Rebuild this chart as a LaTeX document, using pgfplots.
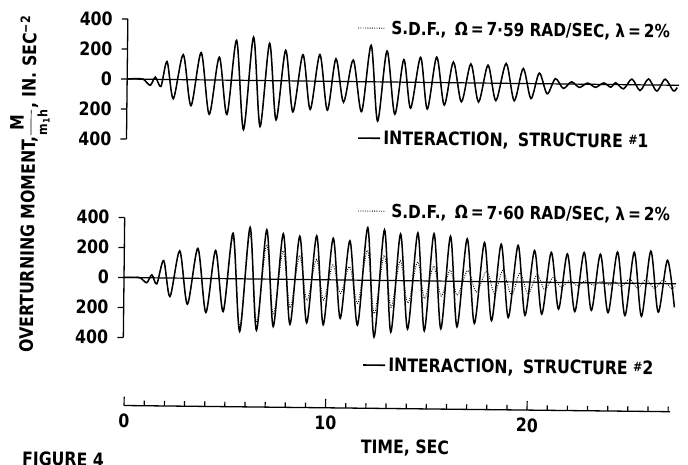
\documentclass[border=0pt]{standalone}
\usepackage{fontspec}
\setmainfont{DejaVu Sans}[FakeStretch=0.85]
\usepackage{amsmath}
\usepackage{pgfplots}
\pgfplotsset{compat=1.18}
\newcommand{\lf}{\fontsize{18.5}{20}\selectfont\bfseries}
\newcommand{\legf}{\fontsize{18}{20}\selectfont\bfseries}
\pgfplotsset{
  panel/.style={
    scale only axis, width=552.1pt, height=120pt,
    xmin=0, xmax=27.4, ymin=-400, ymax=400,
    axis x line=none, axis y line=left,
    axis line style={-, line width=1.3pt},
    ytick={-400,-200,0,200,400}, yticklabels={400,200,0,200,400},
    tick align=outside, major tick length=6pt,
    tick style={line width=1.3pt, black},
    yticklabel style={font=\lf, inner sep=0pt, xshift=-9pt},
    clip=false,
  },
  sol/.style={black, line width=1.5pt, smooth},
  sdf/.style={black, line width=0.9pt, smooth, dash pattern=on 0.9pt off 1.4pt},
  zer/.style={black, line width=1.2pt},
}
\begin{document}
\begin{tikzpicture}
\path[use as bounding box] (0,0) rectangle (688pt,464pt);
\begin{scope}[transform canvas={rotate=-0.65}]
% ---------------- top panel ----------------
\begin{axis}[panel, at={(122.8pt,326.4pt)}, anchor=south west]
\addplot[zer] coordinates {(0,0) (27.4,0)};
\addplot[sdf] coordinates {(0,0) (0.4,2) (0.8,0) (1.15,-36) (1.4,12) (1.68,-44) (1.97,114) (2.30,-122) (2.77,160) (3.18,-166) (3.66,176) (4.09,-220) (4.56,148) (4.97,-220) (5.41,258) (5.80,-318) (6.25,280) (6.62,-298) (7.05,242) (7.41,-252) (7.85,198) (8.24,-200) (8.71,170) (9.10,-182) (9.55,172) (9.95,-186) (10.35,146) (10.75,-132) (11.21,140) (11.65,-193) (12.09,236) (12.45,-254) (12.88,200) (13.30,-208) (13.72,146) (14.08,-167) (14.55,161) (14.91,-172) (15.35,164) (15.75,-145) (16.18,133) (16.60,-122) (17.05,122) (17.45,-122) (17.90,115) (18.31,-111) (18.80,128) (19.22,-111) (19.65,96) (20.05,-96) (20.45,68) (20.85,-64) (21.25,32) (21.65,-28) (22.05,14) (22.45,-20) (22.85,7) (23.25,-18) (23.65,9) (24.0,-16) (24.25,11) (24.64,-26) (25.05,36) (25.46,-36) (25.87,38) (26.29,-38) (26.70,38) (27.11,-36) (27.3,-14)};
\addplot[sol] coordinates {(0,0) (0.4,3) (0.8,0) (1.15,-40) (1.4,15) (1.68,-47) (1.97,120) (2.30,-128) (2.77,167) (3.18,-173) (3.66,182) (4.09,-229) (4.56,153) (4.97,-229) (5.41,267) (5.80,-329) (6.25,289) (6.62,-307) (7.05,249) (7.41,-262) (7.85,204) (8.24,-207) (8.71,176) (9.10,-189) (9.55,178) (9.95,-193) (10.35,151) (10.75,-138) (11.21,144) (11.65,-200) (12.09,244) (12.45,-262) (12.88,207) (13.30,-215) (13.72,151) (14.08,-173) (14.55,167) (14.91,-178) (15.35,170) (15.75,-150) (16.18,138) (16.60,-127) (17.05,127) (17.45,-127) (17.90,120) (18.31,-116) (18.80,133) (19.22,-116) (19.65,100) (20.05,-100) (20.45,71) (20.85,-67) (21.25,35) (21.65,-30) (22.05,15) (22.45,-22) (22.85,8) (23.25,-20) (23.65,10) (24.0,-18) (24.25,12) (24.64,-28) (25.05,38) (25.46,-38) (25.87,40) (26.29,-40) (26.70,40) (27.11,-38) (27.3,-15)};
\end{axis}
% ---------------- bottom panel ----------------
\begin{axis}[panel, at={(121.9pt,127.9pt)}, anchor=south west]
\addplot[zer] coordinates {(0,0) (27.4,0)};
\addplot[sdf] coordinates {(0,0) (0.5,2) (0.8,0) (1.13,-30) (1.38,18) (1.63,-38) (1.96,112) (2.29,-120) (2.75,176) (3.16,-168) (3.65,192) (4.08,-218) (4.53,178) (4.94,-205) (5.39,280) (5.77,-320) (6.23,300) (6.60,-290) (7.06,230) (7.43,-235) (7.88,190) (8.26,-190) (8.70,160) (9.09,-140) (9.54,135) (9.91,-135) (10.36,100) (10.75,-90) (11.19,90) (11.61,-155) (12.07,200) (12.44,-222) (12.90,167) (13.27,-178) (13.70,133) (14.10,-150) (14.56,127) (14.93,-118) (15.36,100) (15.75,-100) (16.18,75) (16.55,-93) (17.05,73) (17.50,-70) (18.0,73) (18.4,-82) (18.8,78) (19.24,-89) (19.65,62) (20.06,-80) (20.5,51) (20.88,-49) (21.3,33) (21.7,-33) (22.1,15) (22.5,-20) (22.9,12) (23.3,-15) (23.7,10) (24.1,-15) (24.3,12) (24.7,-22) (25.1,27) (25.5,-33) (25.9,27) (26.34,-33) (26.76,25) (27.17,-33) (27.35,-15)};
\addplot[sol] coordinates {(0,0) (0.5,2) (0.8,0) (1.13,-33) (1.38,20) (1.63,-40) (1.96,116) (2.29,-124) (2.75,182) (3.16,-173) (3.65,200) (4.08,-227) (4.53,187) (4.94,-220) (5.39,304) (5.77,-351) (6.23,344) (6.60,-342) (7.06,329) (7.43,-316) (7.88,304) (8.26,-300) (8.70,289) (9.09,-289) (9.54,293) (9.91,-300) (10.36,278) (10.75,-256) (11.19,262) (11.61,-300) (12.07,351) (12.44,-378) (12.90,338) (13.27,-344) (13.70,311) (14.10,-322) (14.56,320) (14.93,-333) (15.36,316) (15.75,-318) (16.18,300) (16.55,-304) (17.01,284) (17.41,-280) (17.87,260) (18.26,-260) (18.70,251) (19.09,-238) (19.54,244) (19.92,-222) (20.36,211) (20.75,-213) (21.19,200) (21.58,-178) (21.99,191) (22.39,-193) (22.82,202) (23.21,-184) (23.63,191) (24.04,-198) (24.48,207) (24.88,-216) (25.31,207) (25.70,-220) (26.13,216) (26.53,-191) (26.96,156) (27.33,-158)};
\end{axis}
% ---------------- time axis ----------------
\begin{axis}[scale only axis, width=546.1pt, height=20pt,
  xmin=0, xmax=27.1, ymin=0, ymax=1,
  axis y line=none, axis x line=bottom,
  axis line style={-, line width=1.3pt},
  xtick={0,10,20}, xticklabels={0,10,20},
  minor xtick={1,2,3,4,5,6,7,8,9,11,12,13,14,15,16,17,18,19,21,22,23,24,25,26,27},
  tick align=inside, major tick length=9pt, minor tick length=5pt,
  tick style={line width=1.2pt, black},
  xticklabel style={font=\lf, inner sep=0pt, yshift=-8pt},
  at={(123.4pt,59.9pt)}, anchor=south west]
\addplot[draw=none] coordinates {(0,0.5) (27,0.5)};
\end{axis}
% ---------------- texts ----------------
\node[rotate=90, anchor=base west, inner sep=0pt, font=\lf] at (31.5pt,111.4pt)
  {OVERTURNING MOMENT,$\dfrac{\mbox{M}}{\mbox{\fontsize{13}{13}\selectfont m\textsubscript{1}h}}$, IN. SEC\textsuperscript{−2}};
% top legend
\draw[black, line width=0.9pt, dash pattern=on 0.9pt off 1.4pt] (353.2pt,440.1pt) -- (380.2pt,440.1pt);
\node[anchor=base west, inner sep=0pt, font=\legf] at (386.2pt,433.6pt)
  {S.D.F.,\ \,Ω\,=\,7·59 RAD/SEC, λ\,=\,2\%};
\draw[black, line width=1.6pt] (354.5pt,330.0pt) -- (376.5pt,330.0pt);
\node[anchor=base west, inner sep=0pt, font=\lf] at (379.5pt,323.5pt)
  {INTERACTION,\enspace STRUCTURE \raisebox{0.35ex}{\fontsize{13}{13}\selectfont\#}1};
% bottom legend
\draw[black, line width=0.9pt, dash pattern=on 0.9pt off 1.4pt] (355.2pt,257.1pt) -- (382.2pt,257.1pt);
\node[anchor=base west, inner sep=0pt, font=\legf] at (388.3pt,250.5pt)
  {S.D.F.,\ \,Ω\,=\,7·60 RAD/SEC, λ\,=\,2\%};
\draw[black, line width=1.6pt] (362pt,103.1pt) -- (384pt,103.1pt);
\node[anchor=base west, inner sep=0pt, font=\lf] at (387pt,96.5pt)
  {INTERACTION,\enspace STRUCTURE \raisebox{0.35ex}{\fontsize{13}{13}\selectfont\#}2};
\node[anchor=center, inner sep=0pt, font=\lf] at (404.8pt,20.5pt) {TIME, SEC};
\node[anchor=west, inner sep=0pt, font=\lf] at (22pt,5.6pt) {FIGURE 4};
\end{scope}
\end{tikzpicture}
\end{document}
